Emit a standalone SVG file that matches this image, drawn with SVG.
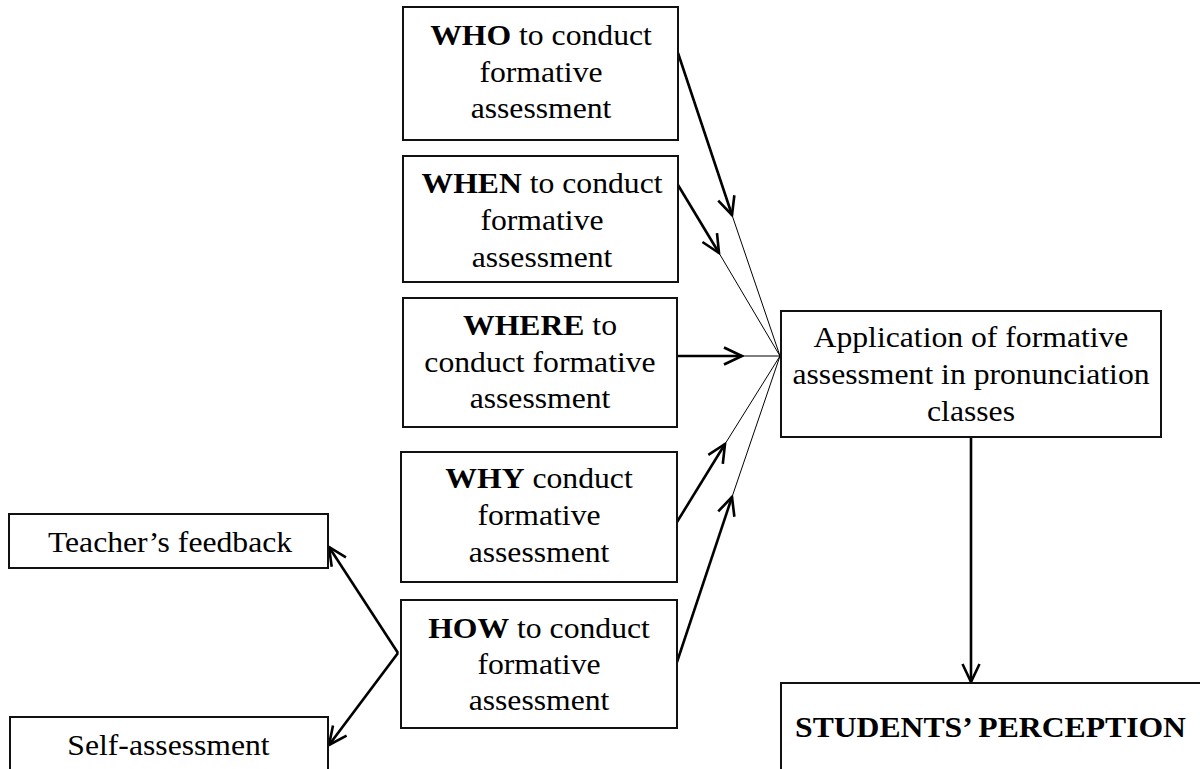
<svg xmlns="http://www.w3.org/2000/svg" width="1200" height="769" viewBox="0 0 1200 769">
<style>
  .box { fill: #fff; stroke: #111; stroke-width: 2; }
  .t { font-family: "Liberation Serif", "Times New Roman", serif; font-size: 28.8px; fill: #000; text-anchor: middle; }
  .b { font-weight: bold; }
  .thick { stroke: #000; stroke-width: 2.6; fill: none; }
  .thin { stroke: #000; stroke-width: 1; fill: none; }
</style>
<defs>
  <marker id="ah" markerUnits="userSpaceOnUse" viewBox="-22 -12 24 24" refX="0" refY="0" markerWidth="24" markerHeight="24" orient="auto">
    <path d="M-18,-8.5 L0,0 L-18,8.5" fill="none" stroke="#000" stroke-width="2.6"/>
  </marker>
</defs>
<rect width="1200" height="769" fill="#fff"/>

<g id="connectors">
  <line class="thick" x1="678" y1="53" x2="732" y2="215" marker-end="url(#ah)"/>
  <line class="thin" x1="732" y1="215" x2="780" y2="356"/>
  <line class="thick" x1="678" y1="185" x2="719" y2="253" marker-end="url(#ah)"/>
  <line class="thin" x1="719" y1="253" x2="780" y2="356"/>
  <line class="thick" x1="677" y1="356" x2="742" y2="356" marker-end="url(#ah)"/>
  <line class="thin" x1="742" y1="356" x2="780" y2="356"/>
  <line class="thick" x1="677" y1="522" x2="725" y2="444" marker-end="url(#ah)"/>
  <line class="thin" x1="725" y1="444" x2="780" y2="356"/>
  <line class="thick" x1="677" y1="662" x2="732" y2="497" marker-end="url(#ah)"/>
  <line class="thin" x1="732" y1="497" x2="780" y2="356"/>
  <line class="thick" x1="971" y1="437" x2="971" y2="682" marker-end="url(#ah)"/>
  <line class="thick" x1="398" y1="653" x2="329" y2="547" marker-end="url(#ah)"/>
  <line class="thick" x1="398" y1="653" x2="329" y2="745" marker-end="url(#ah)"/>
</g>

<g id="who">
  <rect class="box" x="403" y="7" width="275" height="133"/>
  <g transform="matrix(1.1 0 0 1 541 0)">
    <text class="t" x="0" y="45"><tspan class="b">WHO</tspan> to conduct</text>
    <text class="t" x="0" y="82">formative</text>
    <text class="t" x="0" y="118">assessment</text>
  </g>
</g>

<g id="when">
  <rect class="box" x="403" y="156" width="275" height="126"/>
  <g transform="matrix(1.1 0 0 1 542 0)">
    <text class="t" x="0" y="193"><tspan class="b">WHEN</tspan> to conduct</text>
    <text class="t" x="0" y="230">formative</text>
    <text class="t" x="0" y="267">assessment</text>
  </g>
</g>

<g id="where">
  <rect class="box" x="403" y="298" width="274" height="129"/>
  <g transform="matrix(1.1 0 0 1 540 0)">
    <text class="t" x="0" y="335"><tspan class="b">WHERE</tspan> to</text>
    <text class="t" x="0" y="372">conduct formative</text>
    <text class="t" x="0" y="408">assessment</text>
  </g>
</g>

<g id="why">
  <rect class="box" x="401" y="452" width="276" height="130"/>
  <g transform="matrix(1.1 0 0 1 539 0)">
    <text class="t" x="0" y="488"><tspan class="b">WHY</tspan> conduct</text>
    <text class="t" x="0" y="525">formative</text>
    <text class="t" x="0" y="562">assessment</text>
  </g>
</g>

<g id="how">
  <rect class="box" x="401" y="600" width="276" height="128"/>
  <g transform="matrix(1.1 0 0 1 539 0)">
    <text class="t" x="0" y="638"><tspan class="b">HOW</tspan> to conduct</text>
    <text class="t" x="0" y="674">formative</text>
    <text class="t" x="0" y="710">assessment</text>
  </g>
</g>

<g id="application">
  <rect class="box" x="781" y="311" width="380" height="126"/>
  <g transform="matrix(1.1 0 0 1 971 0)">
    <text class="t" x="0" y="347">Application of formative</text>
    <text class="t" x="0" y="384">assessment in pronunciation</text>
    <text class="t" x="0" y="421">classes</text>
  </g>
</g>

<g id="teacher">
  <rect class="box" x="9" y="514" width="319" height="54"/>
  <g transform="matrix(1.1 0 0 1 170 0)">
    <text class="t" x="0" y="552">Teacher’s feedback</text>
  </g>
</g>

<g id="self">
  <rect class="box" x="10" y="717" width="318" height="70"/>
  <g transform="matrix(1.1 0 0 1 168.5 0)">
    <text class="t" x="0" y="755">Self-assessment</text>
  </g>
</g>

<g id="students">
  <rect class="box" x="781" y="683" width="430" height="100"/>
  <g transform="matrix(1.1 0 0 1 990.5 0)">
    <text class="t b" x="0" y="737">STUDENTS’ PERCEPTION</text>
  </g>
</g>
</svg>
